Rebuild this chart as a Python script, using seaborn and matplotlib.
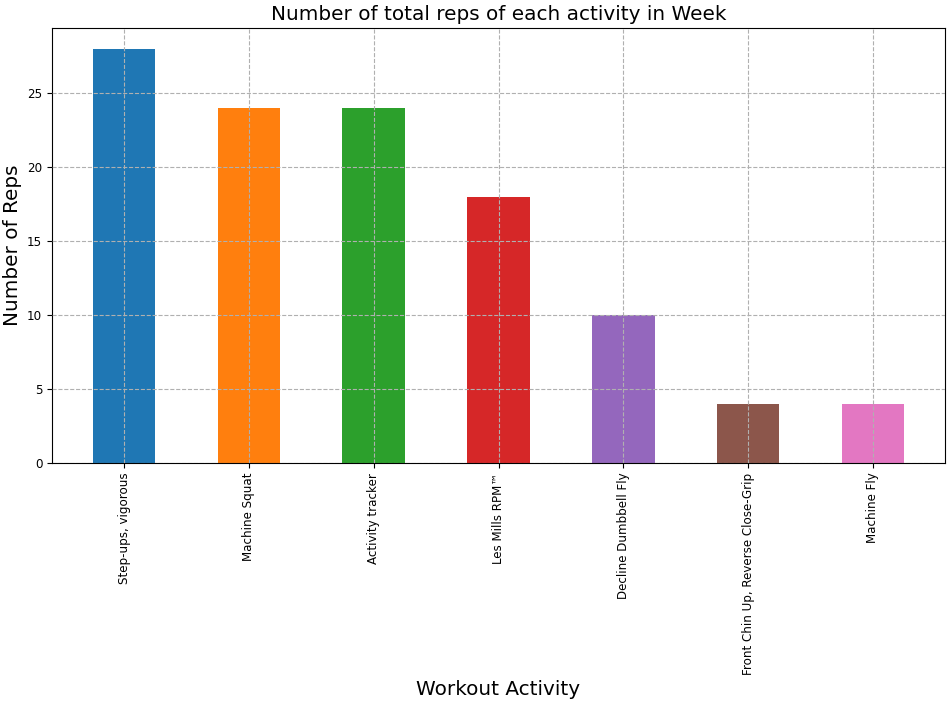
import matplotlib
matplotlib.use("Agg")
import matplotlib.pyplot as plt
import seaborn as sns
import pandas as pd

activities = ["Step-ups, vigorous", "Machine Squat", "Activity tracker", "Les Mills RPM™",
              "Decline Dumbbell Fly", "Front Chin Up, Reverse Close-Grip", "Machine Fly"]
reps = [28, 24, 24, 18, 10, 4, 4]

df = pd.DataFrame({"activity": activities, "reps": reps})

fig = plt.figure(figsize=(9.52, 7.04), dpi=100)
ax = fig.add_axes([52/952, 1 - 463/704, (945-52)/952, (463-28)/704])
colors = sns.color_palette("tab10", len(activities))
sns.barplot(data=df, x="activity", y="reps", hue="activity", palette=colors,
            width=0.5, saturation=1, legend=False, ax=ax)
ax.set_xlim(-0.577, len(activities) - 1 + 0.577)
ax.set_ylim(0, 29.4)
ax.set_axisbelow(False)
ax.grid(True, linestyle="--", color="#b0b0b0", linewidth=0.8)
ax.tick_params(axis="x", rotation=90, labelsize=8.6)
ax.tick_params(axis="y", labelsize=8.6)
ax.set_title("Number of total reps of each activity in Week", fontsize=14.4)
ax.set_xlabel("Workout Activity", fontsize=14.4)
ax.set_ylabel("Number of Reps", fontsize=14.4)
fig.savefig("out.png", dpi=100)
